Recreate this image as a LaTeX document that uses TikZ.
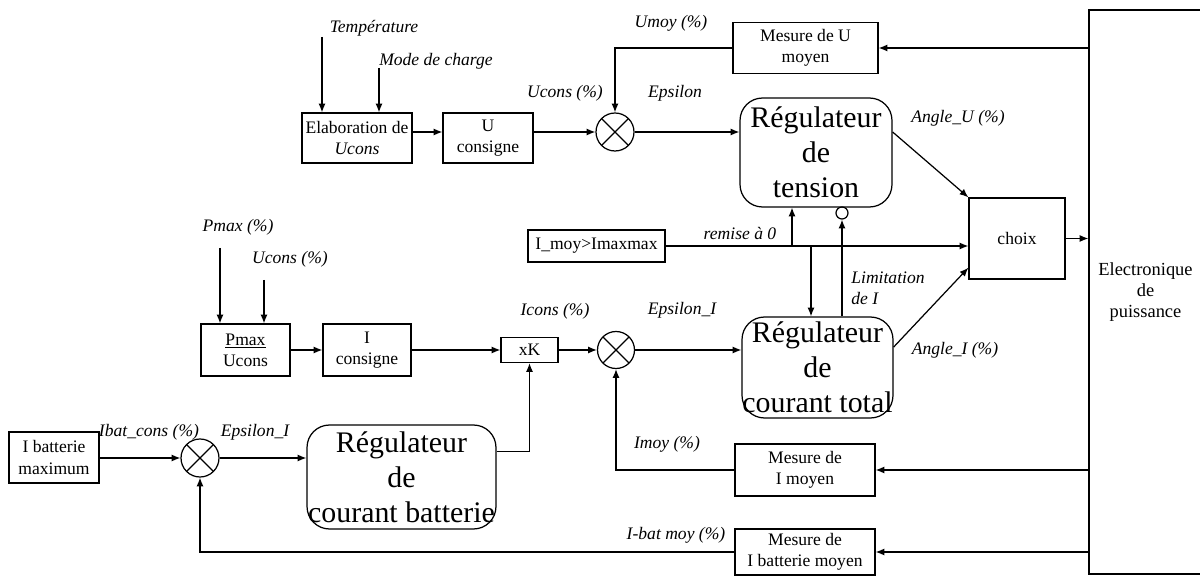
\documentclass[tikz,border=0pt]{standalone}
\usepackage{fontspec}
\setmainfont{Liberation Serif}
\usetikzlibrary{arrows.meta,calc,positioning}

\begin{document}
\begin{tikzpicture}[x=0.02cm,y=-0.02cm,line width=0.7pt,
    >={Latex[length=5pt,width=4pt]},
    blk/.style={draw,rectangle,inner sep=1pt,align=center,
      font=\fontsize{10}{12}\selectfont},
    reg/.style={draw,rectangle,rounded corners=0.45cm,inner sep=0pt,align=center,
      font=\fontsize{17}{20}\selectfont},
    summ/.style={draw,circle,minimum size=0.76cm,inner sep=0pt,
      path picture={\draw (path picture bounding box.south west) -- (path picture bounding box.north east)
        (path picture bounding box.north west) -- (path picture bounding box.south east);}},
    lbl/.style={font=\fontsize{10}{12}\selectfont\itshape,inner sep=1pt}]
  \useasboundingbox (0,0) rectangle (1200,577);

  % Voltage loop
  \node[blk,minimum width=2.2cm,minimum height=1cm] (elab) at (357,138) {Elaboration de\\\textit{Ucons}};
  \node[blk,minimum width=1.8cm,minimum height=1cm] (ucons) at (488,138) {U\\consigne};
  \node[summ] (sumU) at (615,132) {};
  \node[reg,minimum width=3.04cm,minimum height=2.18cm] (regU) at (816,152.5) {Régulateur\\de\\tension};
  \node[blk,minimum width=2.9cm,minimum height=1.02cm] (mesU) at (805.5,48) {Mesure de U\\moyen};
  \node[blk,minimum width=1.92cm,minimum height=1.62cm] (choix) at (1017,238.5) {choix};
  \node[blk,minimum width=2.26cm,minimum height=11.28cm,font=\fontsize{10.5}{12}\selectfont]
    (elec) at (1145.5,292) {Electronique\\de\\puissance};
  \node[blk,minimum width=2.74cm,minimum height=0.64cm] (imax) at (596.5,246) {I\_moy>Imaxmax};
  \node[draw,circle,minimum size=0.24cm,inner sep=0pt] (lim) at (842,213) {};

  % Total current loop
  \node[blk,minimum width=1.78cm,minimum height=1.04cm] (pmax) at (245.5,350) {\underline{Pmax}\\Ucons};
  \node[blk,minimum width=1.76cm,minimum height=1.04cm] (icons) at (367,350) {I\\consigne};
  \node[blk,minimum width=1.14cm,minimum height=0.5cm] (xk) at (529.5,350) {xK};
  \node[summ,minimum size=0.74cm] (sumI) at (616,350) {};
  \node[reg,minimum width=3.02cm,minimum height=2.02cm] (regI) at (817.5,367.5) {Régulateur\\de\\courant total};
  \node[blk,minimum width=2.8cm,minimum height=1.04cm] (mesI) at (805,470) {Mesure de\\I moyen};

  % Battery current loop
  \node[blk,minimum width=1.8cm,minimum height=1.02cm] (ibmax) at (54,457.5) {I batterie\\maximum};
  \node[summ] (sumB) at (200,458) {};
  \node[reg,minimum width=3.78cm,minimum height=2.08cm] (regB) at (401.5,477) {Régulateur\\de\\courant batterie};
  \node[blk,minimum width=2.8cm,minimum height=0.92cm] (mesB) at (805,552) {Mesure de\\I batterie moyen};

  % Labels
  \node[lbl] (lTemp) at (374,28) {Température};
  \node[lbl] (lMode) at (436,61) {Mode de charge};
  \node[lbl] (lUc) at (565,93) {Ucons (\%)};
  \node[lbl] (lEps) at (675,93) {Epsilon};
  \node[lbl] (lUmoy) at (671,23) {Umoy (\%)};
  \node[lbl] (lAU) at (958,118) {Angle\_U (\%)};
  \node[lbl] (lRaz) at (740,233) {remise à 0};
  \node[lbl,align=left,anchor=west] (lLim) at (849,288) {Limitation\\de I};
  \node[lbl] (lPmax) at (238,227) {Pmax (\%)};
  \node[lbl] (lUc2) at (290,259) {Ucons (\%)};
  \node[lbl] (lIc) at (555,311) {Icons (\%)};
  \node[lbl] (lEpsI) at (682,310) {Epsilon\_I};
  \node[lbl] (lAI) at (955,350) {Angle\_I (\%)};
  \node[lbl] (lImoy) at (667,444) {Imoy (\%)};
  \node[lbl] (lIbm) at (676,535) {I-bat moy (\%)};
  \node[lbl] (lIbc) at (149,432) {Ibat\_cons (\%)};
  \node[lbl] (lEpsB) at (255,432) {Epsilon\_I};

  % Inputs and branch points
  \coordinate (inT) at (322,37);
  \coordinate (inM) at (379,68);
  \coordinate (inP) at (220,248);
  \coordinate (inU) at (264,280);
  \coordinate (jU) at (792,246);
  \coordinate (jI) at (811,246);

  % Connections
  \draw[->] (inT) -- (inT |- elab.north);
  \draw[->] (inM) -- (inM |- elab.north);
  \draw[->] (elab.east |- sumU) -- (ucons.west |- sumU);
  \draw[->] (ucons.east |- sumU) -- (sumU.west);
  \draw[->] (sumU.east) -- (sumU.east -| regU.west);
  \draw[->] (mesU.west) -| (sumU.north);
  \draw[->] (elec.west |- mesU) -- (mesU.east);
  \draw[->] (regU.15) -- (choix.north west);
  \draw[->] (regI.15) -- (choix.211);
  \draw[->] (imax.east) -- (imax.east -| choix.west);
  \draw[->] (jU) -- (jU |- regU.south);
  \draw[->] (jI) -- (jI |- regI.north);
  \draw[->] (lim |- regI.north) -- (lim.south);
  \draw[->] (choix.east) -- (choix.east -| elec.west);

  \draw[->] (inP) -- (inP |- pmax.north);
  \draw[->] (inU) -- (inU |- pmax.north);
  \draw[->] (pmax.east) -- (icons.west);
  \draw[->] (icons.east) -- (xk.west);
  \draw[->] (xk.east) -- (sumI.west);
  \draw[->] (sumI.east) -- (sumI.east -| regI.west);
  \draw[->] (mesI.west) -| (sumI.south);
  \draw[->] (elec.west |- mesI) -- (mesI.east);

  \draw[->] (ibmax.east |- sumB) -- (sumB.west);
  \draw[->] (sumB.east) -- (sumB.east -| regB.west);
  \draw[->] (regB.15) -| (xk.south);
  \draw[->] (mesB.west) -| (sumB.south);
  \draw[->] (elec.west |- mesB) -- (mesB.east);
\end{tikzpicture}
\end{document}
